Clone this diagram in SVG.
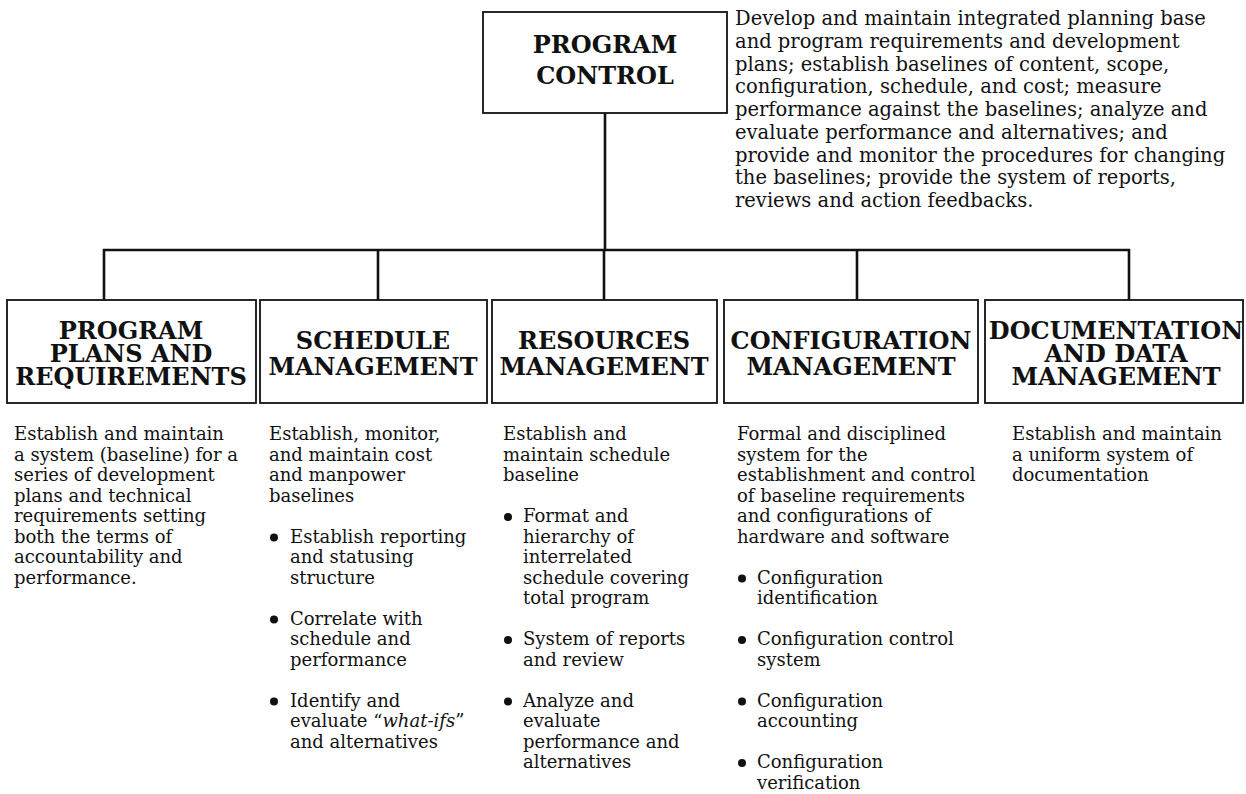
<svg xmlns="http://www.w3.org/2000/svg" width="1246" height="794" viewBox="0 0 1246 794">
<style>
.box{fill:#fff;stroke:#111;stroke-width:1.8}
.conn{fill:none;stroke:#111;stroke-width:2.6}
.h{font-family:"DejaVu Serif","Liberation Serif",serif;font-weight:bold;font-size:24px;fill:#111;text-anchor:middle}
.t{font-family:"DejaVu Serif","Liberation Serif",serif;font-size:18px;fill:#111}
.d{font-family:"DejaVu Serif","Liberation Serif",serif;font-size:19.5px;fill:#111}
.dot{fill:#111}
</style>
<rect width="1246" height="794" fill="#fff"/>
<g id="connectors">
<path class="conn" d="M605 113V250M104 300V250H1129V300M378 250V300M604 250V300M857 250V300"/>
</g>
<g id="program-control">
<rect class="box" x="483" y="12" width="244" height="101"/>
<text class="h" x="605" y="53">PROGRAM</text>
<text class="h" x="605" y="84">CONTROL</text>
</g>
<g id="program-control-description">
<text class="d" x="735" y="25">Develop and maintain integrated planning base</text>
<text class="d" x="735" y="47.75">and program requirements and development</text>
<text class="d" x="735" y="70.5">plans; establish baselines of content, scope,</text>
<text class="d" x="735" y="93.25">configuration, schedule, and cost; measure</text>
<text class="d" x="735" y="116">performance against the baselines; analyze and</text>
<text class="d" x="735" y="138.75">evaluate performance and alternatives; and</text>
<text class="d" x="735" y="161.5">provide and monitor the procedures for changing</text>
<text class="d" x="735" y="184.25">the baselines; provide the system of reports,</text>
<text class="d" x="735" y="207">reviews and action feedbacks.</text>
</g>
<g id="program-plans">
<rect class="box" x="7" y="300" width="249" height="103"/>
<text class="h" x="131" y="339">PROGRAM</text>
<text class="h" x="131" y="362">PLANS AND</text>
<text class="h" x="131" y="385">REQUIREMENTS</text>
<text class="t" x="14" y="440">Establish and maintain</text>
<text class="t" x="14" y="460.5">a system (baseline) for a</text>
<text class="t" x="14" y="481">series of development</text>
<text class="t" x="14" y="501.5">plans and technical</text>
<text class="t" x="14" y="522">requirements setting</text>
<text class="t" x="14" y="542.5">both the terms of</text>
<text class="t" x="14" y="563">accountability and</text>
<text class="t" x="14" y="583.5">performance.</text>
</g>
<g id="schedule-management">
<rect class="box" x="260" y="300" width="227" height="103"/>
<text class="h" x="373" y="349">SCHEDULE</text>
<text class="h" x="373" y="375">MANAGEMENT</text>
<text class="t" x="269" y="440">Establish, monitor,</text>
<text class="t" x="269" y="460.5">and maintain cost</text>
<text class="t" x="269" y="481">and manpower</text>
<text class="t" x="269" y="501.5">baselines</text>
<circle class="dot" cx="274" cy="537.5" r="4"/>
<text class="t" x="290" y="542.5">Establish reporting</text>
<text class="t" x="290" y="563">and statusing</text>
<text class="t" x="290" y="583.5">structure</text>
<circle class="dot" cx="274" cy="619.5" r="4"/>
<text class="t" x="290" y="624.5">Correlate with</text>
<text class="t" x="290" y="645">schedule and</text>
<text class="t" x="290" y="665.5">performance</text>
<circle class="dot" cx="274" cy="701.5" r="4"/>
<text class="t" x="290" y="706.5">Identify and</text>
<text class="t" x="290" y="727">evaluate “<tspan font-style="italic">what-ifs</tspan>”</text>
<text class="t" x="290" y="747.5">and alternatives</text>
</g>
<g id="resources-management">
<rect class="box" x="492" y="300" width="225" height="103"/>
<text class="h" x="604" y="349">RESOURCES</text>
<text class="h" x="604" y="375">MANAGEMENT</text>
<text class="t" x="503" y="440">Establish and</text>
<text class="t" x="503" y="460.5">maintain schedule</text>
<text class="t" x="503" y="481">baseline</text>
<circle class="dot" cx="508" cy="517" r="4"/>
<text class="t" x="523" y="522">Format and</text>
<text class="t" x="523" y="542.5">hierarchy of</text>
<text class="t" x="523" y="563">interrelated</text>
<text class="t" x="523" y="583.5">schedule covering</text>
<text class="t" x="523" y="604">total program</text>
<circle class="dot" cx="508" cy="640" r="4"/>
<text class="t" x="523" y="645">System of reports</text>
<text class="t" x="523" y="665.5">and review</text>
<circle class="dot" cx="508" cy="701.5" r="4"/>
<text class="t" x="523" y="706.5">Analyze and</text>
<text class="t" x="523" y="727">evaluate</text>
<text class="t" x="523" y="747.5">performance and</text>
<text class="t" x="523" y="768">alternatives</text>
</g>
<g id="configuration-management">
<rect class="box" x="724" y="300" width="254" height="103"/>
<text class="h" x="851" y="349">CONFIGURATION</text>
<text class="h" x="851" y="375">MANAGEMENT</text>
<text class="t" x="737" y="440">Formal and disciplined</text>
<text class="t" x="737" y="460.5">system for the</text>
<text class="t" x="737" y="481">establishment and control</text>
<text class="t" x="737" y="501.5">of baseline requirements</text>
<text class="t" x="737" y="522">and configurations of</text>
<text class="t" x="737" y="542.5">hardware and software</text>
<circle class="dot" cx="742" cy="578.5" r="4"/>
<text class="t" x="757" y="583.5">Configuration</text>
<text class="t" x="757" y="604">identification</text>
<circle class="dot" cx="742" cy="640" r="4"/>
<text class="t" x="757" y="645">Configuration control</text>
<text class="t" x="757" y="665.5">system</text>
<circle class="dot" cx="742" cy="701.5" r="4"/>
<text class="t" x="757" y="706.5">Configuration</text>
<text class="t" x="757" y="727">accounting</text>
<circle class="dot" cx="742" cy="763" r="4"/>
<text class="t" x="757" y="768">Configuration</text>
<text class="t" x="757" y="788.5">verification</text>
</g>
<g id="documentation-management">
<rect class="box" x="985" y="300" width="258" height="103"/>
<text class="h" x="1116" y="339">DOCUMENTATION</text>
<text class="h" x="1116" y="362">AND DATA</text>
<text class="h" x="1116" y="385">MANAGEMENT</text>
<text class="t" x="1012" y="440">Establish and maintain</text>
<text class="t" x="1012" y="460.5">a uniform system of</text>
<text class="t" x="1012" y="481">documentation</text>
</g>
</svg>
